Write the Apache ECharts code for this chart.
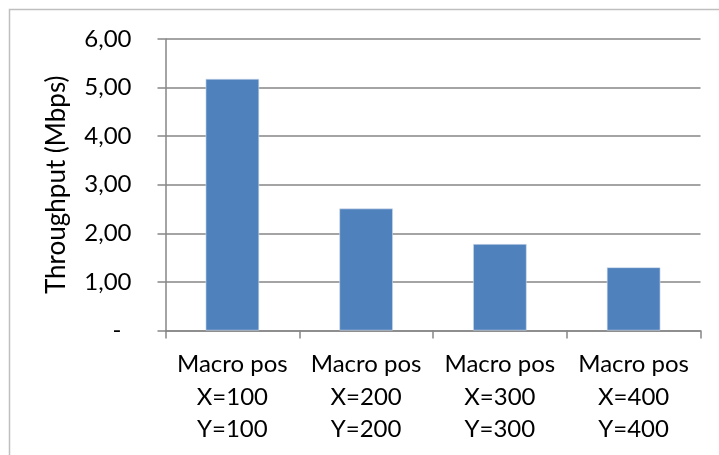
<!DOCTYPE html>
<html>
<head>
<meta charset="utf-8">
<script src="https://cdn.jsdelivr.net/npm/echarts@6/dist/echarts.min.js"></script>
<style>
  html, body { margin: 0; padding: 0; background: #fff; }
  #chart { width: 719px; height: 455px; }
</style>
</head>
<body>
<div id="chart"></div>
<script>
// Throughput per macro cell position
const categories = [
  'Macro pos\nX=100\nY=100',
  'Macro pos\nX=200\nY=200',
  'Macro pos\nX=300\nY=300',
  'Macro pos\nX=400\nY=400'
];
const throughput = [5.18, 2.51, 1.78, 1.30];
const yTicks = { min: 0, max: 6, interval: 1 };
const yAxisTitle = 'Throughput (Mbps)';

const FONT = 'Lato, "Open Sans", sans-serif';
const FONT_SIZE = 24;
const GRID_COLOR = '#868686';

const chart = echarts.init(document.getElementById('chart'), null, { renderer: 'canvas' });
chart.setOption({
  animation: false,
  backgroundColor: '#ffffff',
  graphic: [{
    type: 'rect',
    shape: { x: 9.5, y: 9.5, width: 740, height: 480 },
    style: { fill: 'none', stroke: '#bfbfbf', lineWidth: 1.5 },
    silent: true
  }],
  grid: { left: 165.5, right: 18.5, top: 39, bottom: 124.5, containLabel: false },
  xAxis: {
    type: 'category',
    data: categories,
    boundaryGap: true,
    axisLine: { lineStyle: { color: GRID_COLOR, width: 1.5 } },
    axisTick: { show: true, alignWithLabel: false, length: 8, lineStyle: { color: GRID_COLOR, width: 1.5 } },
    axisLabel: {
      interval: 0, margin: 18, color: '#000', fontFamily: FONT, fontSize: FONT_SIZE,
      lineHeight: 32.5, align: 'center'
    }
  },
  yAxis: {
    type: 'value',
    min: yTicks.min, max: yTicks.max, interval: yTicks.interval,
    name: yAxisTitle,
    nameLocation: 'middle',
    nameGap: 96,
    nameRotate: 90,
    nameTextStyle: { color: '#000', fontFamily: FONT, fontSize: 26 },
    axisLine: { show: true, lineStyle: { color: GRID_COLOR, width: 1.5 } },
    axisTick: { show: true, length: 8, lineStyle: { color: GRID_COLOR, width: 1.5 } },
    splitLine: { show: true, lineStyle: { color: GRID_COLOR, width: 1.5 } },
    axisLabel: {
      margin: 34, color: '#000', fontFamily: FONT, fontSize: FONT_SIZE,
      formatter: v => v === 0 ? '{dash|-}' : v.toFixed(2).replace('.', ','),
      rich: { dash: { fontFamily: FONT, fontSize: FONT_SIZE, color: '#000', padding: [0, 10, 0, 0] } }
    }
  },
  series: [{
    type: 'bar',
    data: throughput,
    barWidth: '40%',
    itemStyle: { color: '#4f81bd', borderColor: '#d6e1ef', borderWidth: 0.6 }
  }]
});
</script>
</body>
</html>
